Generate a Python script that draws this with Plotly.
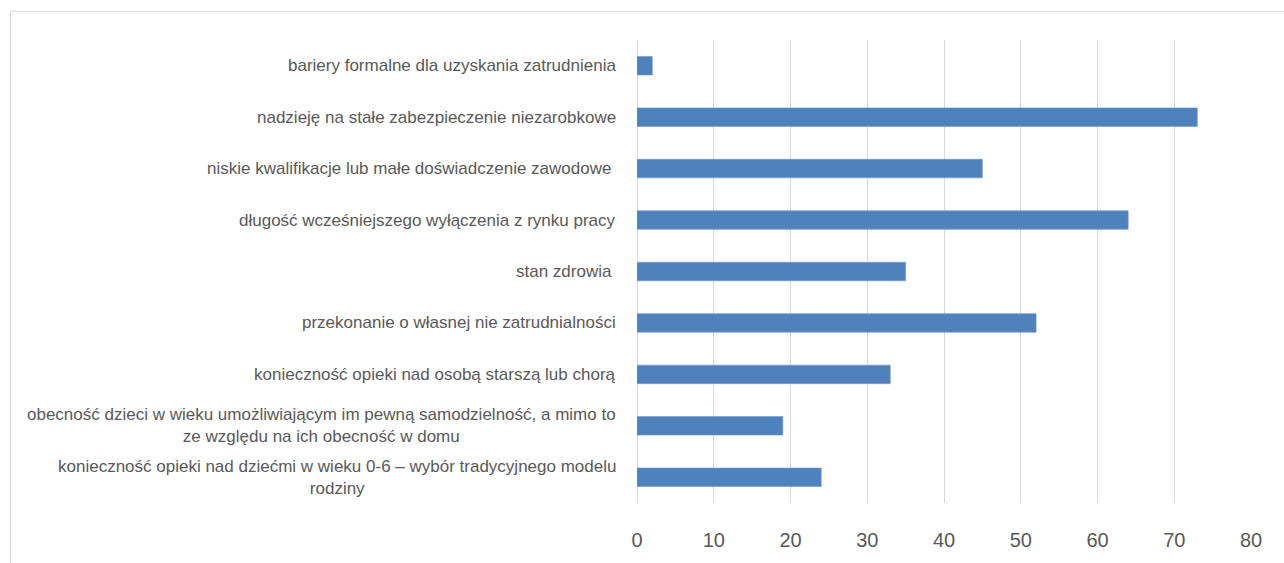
import plotly.graph_objects as go

categories = [
    "konieczność opieki nad dziećmi w wieku 0-6 – wybór tradycyjnego modelu<br>rodziny",
    "obecność dzieci w wieku umożliwiającym im pewną samodzielność, a mimo to<br>ze względu na ich obecność w domu",
    "konieczność opieki nad osobą starszą lub chorą",
    "przekonanie o własnej nie zatrudnialności",
    "stan zdrowia ",
    "długość wcześniejszego wyłączenia z rynku pracy",
    "niskie kwalifikacje lub małe doświadczenie zawodowe ",
    "nadzieję na stałe zabezpieczenie niezarobkowe",
    "bariery formalne dla uzyskania zatrudnienia",
]
values = [24, 19, 33, 52, 35, 64, 45, 73, 2]
x_ticks = [0, 10, 20, 30, 40, 50, 60, 70, 80]

W, H = 1284, 563
ml, mr, mt, mb = 636.5, 32.5, 40, 56
pw, ph = W - ml - mr, H - mt - mb

fig = go.Figure()
fig.add_trace(go.Bar(
    x=values, y=list(range(len(categories))), orientation="h",
    marker=dict(color="#4F81BD", line=dict(color="#6E98CC", width=0.6)),
    width=0.36, hoverinfo="x",
))

TXT = "#595959"
FONT = "Liberation Sans"
for i, c in enumerate(categories):
    fig.add_annotation(
        x=0, xref="paper", y=i, yref="y", text=c, showarrow=False,
        xanchor="right", yanchor="middle", align="center", xshift=-19,
        font=dict(family=FONT, size=17, color=TXT),
    )

fig.add_shape(
    type="rect", xref="paper", yref="paper",
    x0=(9 - ml) / pw, x1=(W + 20 - ml) / pw,
    y0=-(mb + 20) / ph, y1=1 + (mt - 11) / ph,
    line=dict(color="#D9D9D9", width=1), fillcolor="rgba(0,0,0,0)", layer="below",
)

fig.update_layout(
    width=W, height=H,
    margin=dict(l=ml, r=mr, t=mt, b=mb, pad=0),
    paper_bgcolor="white", plot_bgcolor="white",
    showlegend=False, bargap=0.64,
    font=dict(family=FONT, color=TXT),
    xaxis=dict(
        range=[0, 80], tickvals=x_ticks, ticktext=[str(t) for t in x_ticks],
        showgrid=True, gridcolor="#D9D9D9", gridwidth=1.3,
        zeroline=True, zerolinecolor="#D9D9D9", zerolinewidth=1.3,
        showline=False, ticks="", ticklabelstandoff=23,
        tickfont=dict(family=FONT, size=20, color=TXT), fixedrange=True,
    ),
    yaxis=dict(
        range=[-0.5, len(categories) - 0.5], showticklabels=False,
        showgrid=False, zeroline=False, showline=False, ticks="", fixedrange=True,
    ),
)

fig.write_html("out.html")
